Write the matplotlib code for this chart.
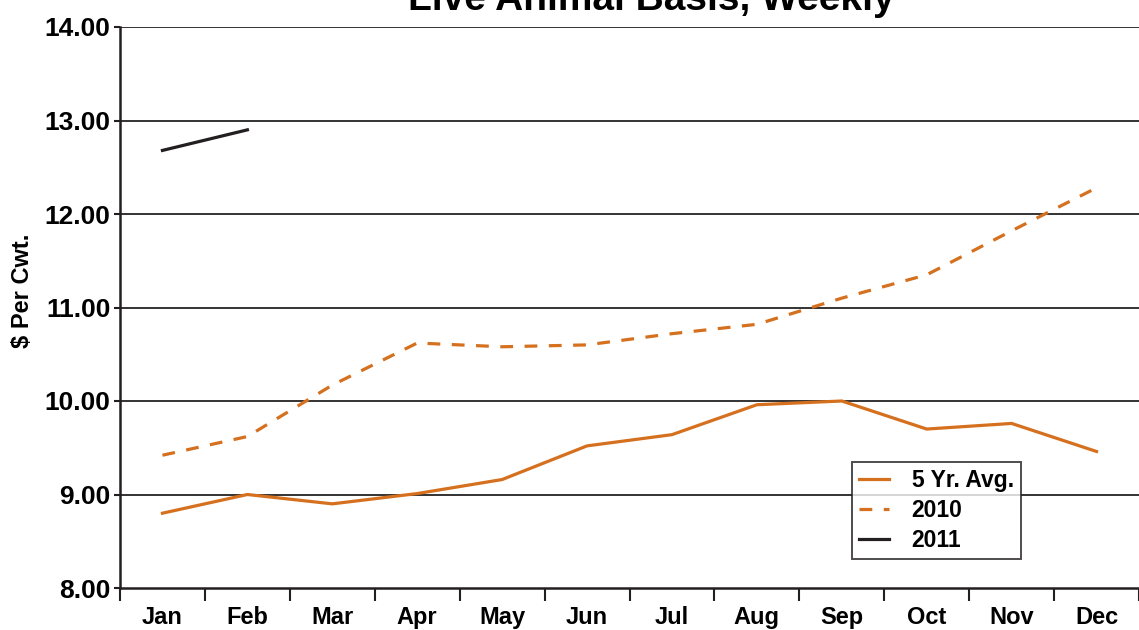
import numpy as np
import matplotlib
matplotlib.use('Agg')
from matplotlib import pyplot as plt

months = ['Jan', 'Feb', 'Mar', 'Apr', 'May', 'Jun', 'Jul', 'Aug', 'Sep', 'Oct', 'Nov', 'Dec']
avg5 = [8.80, 9.00, 8.90, 9.01, 9.16, 9.52, 9.64, 9.96, 10.00, 9.70, 9.76, 9.46]
y2010 = [9.42, 9.62, 10.17, 10.62, 10.58, 10.60, 10.72, 10.82, 11.10, 11.35, 11.82, 12.28]
y2011 = [12.68, 12.90]
yticks = [8, 9, 10, 11, 12, 13, 14]

orange = '#D5701E'
plt.rcParams['font.family'] = ['Liberation Sans Narrow', 'Liberation Sans', 'DejaVu Sans']
plt.rcParams['font.weight'] = 'bold'

fig = plt.figure(figsize=(11.39, 6.30), dpi=100)
ax = fig.add_axes([120/1139, 1-588/630, 1-120/1139, (588-27)/630])

x = np.arange(len(months))
ax.plot(x, avg5, color=orange, lw=2.3, label='5 Yr. Avg.', solid_joinstyle='miter')
ax.plot(x, y2010, color=orange, lw=2.3, ls=(0, (4, 3.6)), label='2010')
ax.plot(x[:len(y2011)], y2011, color='#231f20', lw=2.3, label='2011')

ax.set_ylim(8, 14)
ax.set_xlim(-0.5, 11.48)
ax.set_yticks(yticks)
ax.set_yticklabels(['%.2f' % v for v in yticks], fontsize=19, fontweight='bold')
ax.set_xticks(x)
ax.set_xticklabels(months, fontsize=17, fontweight='bold')
ax.set_xticks(np.arange(-0.5, 12, 1), minor=True)
ax.tick_params(axis='x', which='major', length=0, pad=13)
ax.tick_params(axis='x', which='minor', length=9, width=1.5, color='#231f20', direction='out')
ax.tick_params(axis='y', length=4, width=1.5, color='#231f20', pad=3)
for v in yticks[1:]:
    ax.axhline(v, color='#333333', lw=1.4, zorder=0)
for s in ['top', 'right']:
    ax.spines[s].set_visible(False)
ax.spines['left'].set_linewidth(1.8)
ax.spines['bottom'].set_linewidth(1.8)
ax.spines['left'].set_color('#231f20')
ax.spines['bottom'].set_color('#231f20')

ax.set_ylabel('$ Per Cwt.', fontsize=17, fontweight='bold')
ax.yaxis.set_label_coords(-0.084, 0.53)

leg = ax.legend(loc='upper left', bbox_to_anchor=(852/1139, 1-462/630),
                bbox_transform=fig.transFigure, fontsize=16.5, frameon=True,
                fancybox=False, handlelength=1.3, borderpad=0.3, labelspacing=0.3,
                handletextpad=1.0, borderaxespad=0)
leg.get_frame().set_edgecolor('#231f20')
leg.get_frame().set_linewidth(1.4)

fig.text(0.572, 1-10/630, 'Live Animal Basis, Weekly', fontsize=28, fontweight='bold',
         ha='center', va='baseline')

fig.savefig('out.png', dpi=100)
